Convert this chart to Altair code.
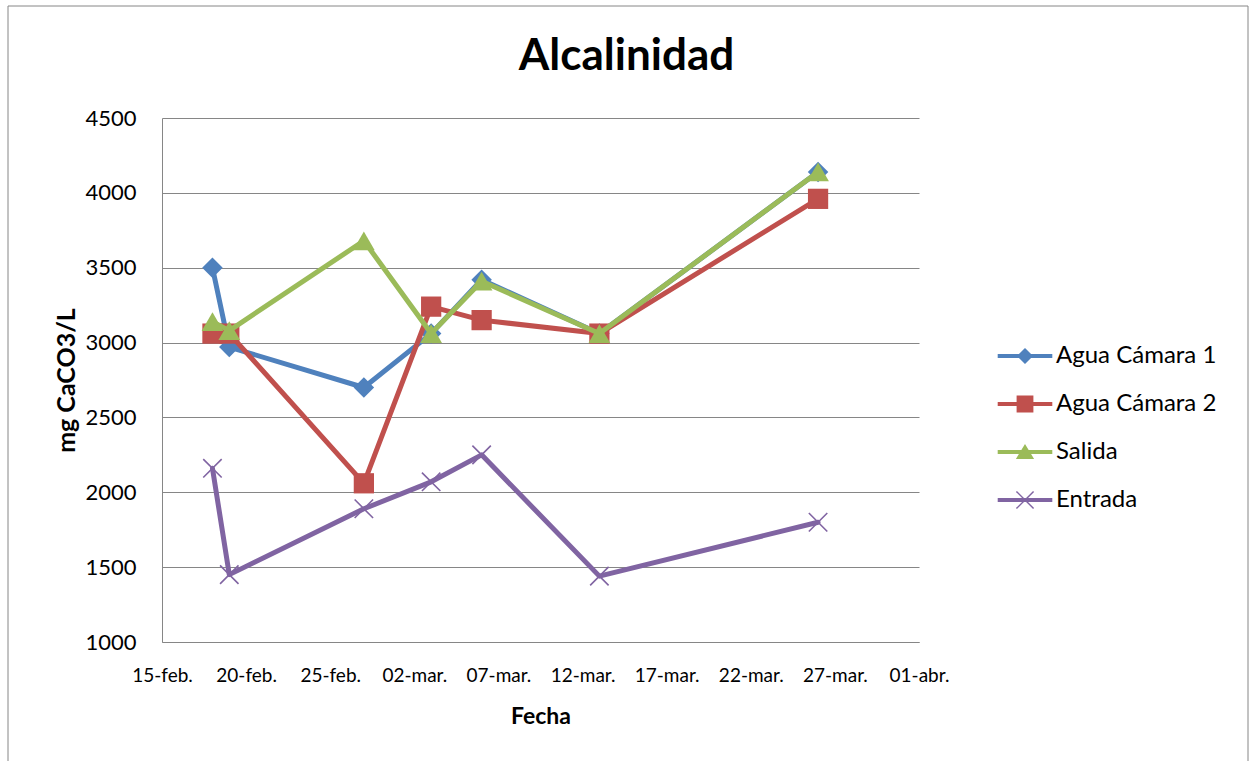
import altair as alt
import pandas as pd

# Fechas de muestreo y alcalinidad (mg CaCO3/L) por punto de muestreo
fechas = ["2013-02-18", "2013-02-19", "2013-02-27", "2013-03-03",
          "2013-03-06", "2013-03-13", "2013-03-26"]
camara1 = [3500, 2970, 2700, 3060, 3420, 3060, 4140]
camara2 = [3060, 3060, 2060, 3240, 3150, 3060, 3960]
salida = [3140, 3080, 3680, 3060, 3410, 3060, 4140]
entrada = [2160, 1450, 1890, 2070, 2250, 1440, 1800]

series = ["Agua Cámara 1", "Agua Cámara 2", "Salida", "Entrada"]
colores = ["#4F81BD", "#C0504D", "#9BBB59", "#8064A2"]

# Marcas del eje
ticks_x = ["2013-02-15", "2013-02-20", "2013-02-25", "2013-03-02", "2013-03-07",
           "2013-03-12", "2013-03-17", "2013-03-22", "2013-03-27", "2013-04-01"]
meses = ["ene", "feb", "mar", "abr"]
ticks_y = [1000, 1500, 2000, 2500, 3000, 3500, 4000, 4500]

titulo = "Alcalinidad"

valores = {"Agua Cámara 1": camara1, "Agua Cámara 2": camara2,
           "Salida": salida, "Entrada": entrada}
df = pd.DataFrame(
    [{"serie": s, "fecha": f, "valor": v}
     for s in series for f, v in zip(fechas, valores[s])]
)


def dt(s):
    t = pd.Timestamp(s)
    return alt.DateTime(year=t.year, month=t.month, date=t.day, utc=True)


GRIS = "#868686"
FUENTE = "Lato"

mes_expr = "[" + ",".join(f"'{m}'" for m in meses) + "]"
X = alt.X(
    "fecha:T",
    scale=alt.Scale(type="utc", domain=[dt(ticks_x[0]), dt(ticks_x[-1])]),
    axis=alt.Axis(
        values=[dt(t) for t in ticks_x],
        labelExpr=f"utcFormat(datum.value, '%d') + '-' + {mes_expr}[utcmonth(datum.value)] + '.'",
        grid=False, ticks=False, domainColor=GRIS, domainWidth=1,
        labelFontSize=19, labelPadding=24, labelColor="black",
        labelOverlap=False, labelFlush=False, labelBound=False,
        title="Fecha", titleFontSize=23, titleFontWeight="bold",
        titleColor="black", titlePadding=20,
    ),
)
Y = alt.Y(
    "valor:Q",
    scale=alt.Scale(domain=[ticks_y[0], ticks_y[-1]], nice=False, zero=False),
    axis=alt.Axis(
        values=ticks_y, format="d", grid=True, gridColor=GRIS, gridWidth=1,
        domainColor=GRIS, domainWidth=1, ticks=False,
        labelFontSize=22, labelPadding=26, labelColor="black",
        title="mg CaCO3/L", titleFontSize=25, titleFontWeight="bold",
        titleColor="black", titlePadding=5,
    ),
)

# Marcadores de cada serie
marcadores = {
    "Agua Cámara 1": ("diamond", 420),
    "Agua Cámara 2": ("square", 410),
    "Salida": ("triangle-up", 470),
    "Entrada": ("M-1,-1L1,1M-1,1L1,-1", 340),
}

# Símbolos de la leyenda: trazo de línea con el marcador encima
linea = "M-3.9,-0.3L3.9,-0.3L3.9,0.3L-3.9,0.3Z"
simbolos = [
    linea + "M0,-1.15L1.15,0L0,1.15L-1.15,0Z",
    linea + "M-1.2,-1.2L1.2,-1.2L1.2,1.2L-1.2,1.2Z",
    linea + "M0,-1.15L1.3,1L-1.3,1Z",
    linea + "M-1.3,-1.15L-1.15,-1.3L1.3,1.15L1.15,1.3Z"
            "M-1.3,1.15L1.15,-1.3L1.3,-1.15L-1.15,1.3Z",
]

uno = alt.Data(values=[{}])

marco = alt.Chart(uno).mark_rect(
    fill="transparent", stroke=GRIS, strokeWidth=1
).encode(
    x=alt.value(-154), x2=alt.value(1086),
    y=alt.value(-112), y2=alt.value(660),
)

encabezado = alt.Chart(uno).mark_text(
    text=titulo, font=FUENTE, fontSize=44, fontWeight="bold", color="black",
    align="center", baseline="alphabetic",
).encode(x=alt.value(464.5), y=alt.value(-48))

base = alt.Chart(df)
capas = [marco, encabezado]
for s, c in zip(series, colores):
    sub = base.transform_filter(alt.datum.serie == s)
    capas.append(
        sub.mark_line(color=c, strokeWidth=5, strokeJoin="round", strokeCap="round")
        .encode(x=X, y=Y)
    )
    forma, tam = marcadores[s]
    if s == "Entrada":
        capas.append(
            sub.mark_point(shape=forma, size=tam, filled=False, color=c,
                           strokeWidth=1.6, opacity=1).encode(x=X, y=Y)
        )
    else:
        capas.append(
            sub.mark_point(shape=forma, size=tam, filled=True, color=c,
                           opacity=1).encode(x=X, y=Y)
        )

leg_props = dict(
    title=None, orient="none", legendX=851, legendY=226, padding=0,
    labelFontSize=24, labelColor="black", labelFont=FUENTE, labelOffset=19,
    labelLimit=400, rowPadding=24, symbolSize=196, symbolStrokeWidth=0,
    symbolOpacity=1,
)
# Capa invisible que sólo aporta la leyenda (línea + marcador)
leyenda = base.mark_point(filled=True, size=196, opacity=0).encode(
    x=X, y=Y,
    color=alt.Color("serie:N", scale=alt.Scale(domain=series, range=colores),
                    legend=alt.Legend(**leg_props)),
    shape=alt.Shape("serie:N", scale=alt.Scale(domain=series, range=simbolos),
                    legend=alt.Legend(**leg_props)),
)
capas.append(leyenda)

chart = alt.layer(*capas).properties(
    width=757, height=524,
    autosize=alt.AutoSizeParams(type="none"),
    padding={"left": 162, "top": 118, "right": 334, "bottom": 119},
).configure(
    font=FUENTE, background="white"
).configure_view(stroke=None)

chart.save("out.html", embed_options={"renderer": "svg", "actions": False})
